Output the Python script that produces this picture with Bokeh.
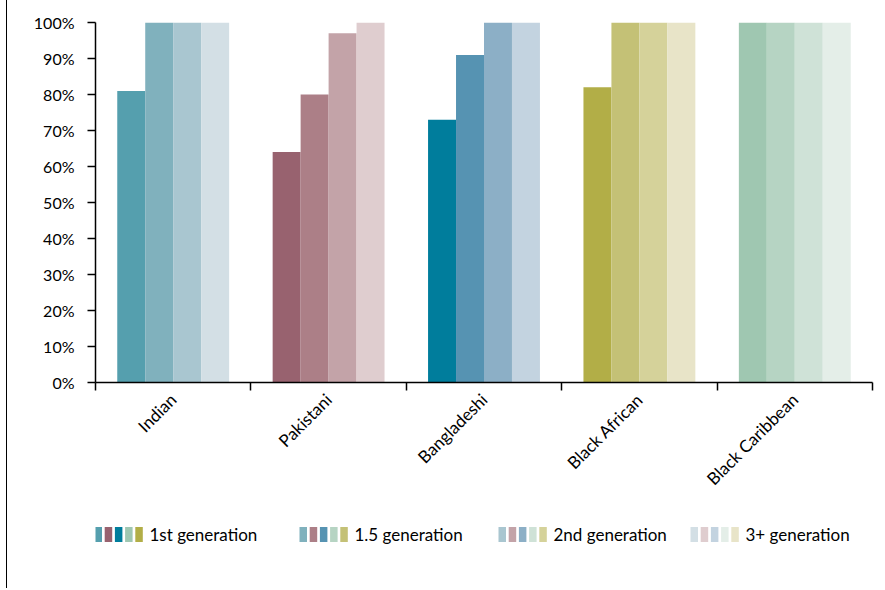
from bokeh.plotting import figure
from bokeh.layouts import column, row
from bokeh.models import ColumnDataSource, Range1d, FixedTicker, PrintfTickFormatter, Div
from bokeh.core.properties import value
from bokeh.embed import file_html
from bokeh.resources import INLINE
import math

categories = ["Indian", "Pakistani", "Bangladeshi", "Black African", "Black Caribbean"]
generations = ["1st generation", "1.5 generation", "2nd generation", "3+ generation"]

values = {
    "1st generation": [81, 64, 73, 82, 100],
    "1.5 generation": [100, 80, 91, 100, 100],
    "2nd generation": [100, 97, 100, 100, 100],
    "3+ generation": [100, 100, 100, 100, 100],
}

colors = {
    "1st generation": ["#559FAE", "#98626F", "#007D9C", "#B2AE47", "#9FC7B1"],
    "1.5 generation": ["#80B1BD", "#AC7F87", "#5693B2", "#C4C176", "#B6D4C3"],
    "2nd generation": ["#A9C6D0", "#C3A3A8", "#8CAFC6", "#D5D29A", "#CFE2D7"],
    "3+ generation": ["#D3DFE5", "#DFCDCF", "#C3D3E0", "#E8E4C8", "#E4EEE8"],
}
legend_order = [0, 1, 2, 4, 3]

y_ticks = list(range(0, 101, 10))

FONT = "Lato"
BAR_W = 0.18
offsets = [-0.27, -0.09, 0.09, 0.27]

X0 = 8  # width of left rule block
FL, FR = 96 - X0, 873 - X0
W = 877 - X0

p = figure(width=W, height=508, output_backend="svg", toolbar_location=None,
           x_range=Range1d(0, len(categories)), y_range=Range1d(0, 100),
           min_border_left=FL, min_border_right=W - FR, min_border_top=22, min_border_bottom=126)
p.outline_line_color = None
p.xgrid.visible = False
p.ygrid.visible = False

centers = [i + 0.5 for i in range(len(categories))]
for g, off in zip(generations, offsets):
    src = ColumnDataSource(dict(x=[c + off for c in centers], top=values[g], color=colors[g]))
    p.vbar(x="x", top="top", bottom=0, width=BAR_W, fill_color="color", line_color=None, source=src)

# y axis
p.yaxis.ticker = FixedTicker(ticks=y_ticks)
p.yaxis.formatter = PrintfTickFormatter(format="%d%%")
p.yaxis.axis_line_color = "black"
p.yaxis.axis_line_width = 1.5
p.yaxis.major_tick_line_color = "black"
p.yaxis.major_tick_line_width = 1.5
p.yaxis.major_tick_out = 8
p.yaxis.major_tick_in = 0
p.yaxis.minor_tick_line_color = None
p.yaxis.major_label_text_font = FONT
p.yaxis.major_label_text_font_size = "16px"
p.yaxis.major_label_text_color = "black"
p.yaxis.major_label_standoff = 13

# x axis
p.xaxis.ticker = FixedTicker(ticks=centers, minor_ticks=list(range(len(categories) + 1)))
p.xaxis.major_label_overrides = {c: n for c, n in zip(centers, categories)}
p.xaxis.major_label_orientation = math.pi / 4
p.xaxis.major_tick_line_color = None
p.xaxis.minor_tick_line_color = "black"
p.xaxis.minor_tick_line_width = 1.5
p.xaxis.minor_tick_out = 8
p.xaxis.minor_tick_in = 0
p.xaxis.axis_line_color = "black"
p.xaxis.axis_line_width = 1.5
p.xaxis.major_label_text_font = FONT
p.xaxis.major_label_text_font_size = "17px"
p.xaxis.major_label_text_color = "black"
p.xaxis.major_label_standoff = 6

# legend figure (x in page pixels, frame aligned with main frame)
lg = figure(width=W, height=60, output_backend="svg", toolbar_location=None,
            x_range=Range1d(FL + X0, FR + X0), y_range=Range1d(60, 0),
            min_border_left=FL, min_border_right=W - FR, min_border_top=0, min_border_bottom=0)
lg.axis.visible = False
lg.xgrid.visible = False
lg.ygrid.visible = False
lg.outline_line_color = None

item_x = [95, 300, 499, 691]
sw_x, sw_c, tx, ty, tt = [], [], [], [], []
for g, x0 in zip(generations, item_x):
    for k, idx in enumerate(legend_order):
        sw_x.append(x0 + 3.75 + k * 10.2)
        sw_c.append(colors[g][idx])
    tx.append(x0 + 55)
    ty.append(26)
    tt.append(g)
lg.rect(x=sw_x, y=[26] * len(sw_x), width=7.5, height=15, fill_color=sw_c, line_color=None)
lg.text(x=tx, y=ty, text=tt, text_font=value(FONT), text_font_size="17px",
        text_baseline="middle", text_align="left", text_color="black")

rule = Div(width=X0 - 1, height=588, margin=(0, 0, 0, 0),
           styles={"border-right": "1px solid #000000"})

layout = row(rule, column(p, lg, spacing=0), spacing=0)
open("out.html", "w").write(file_html(layout, INLINE))
